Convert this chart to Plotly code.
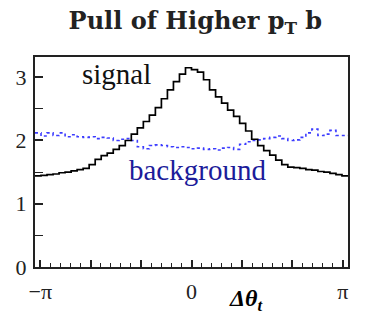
import numpy as np
import plotly.graph_objects as go

# histogram binning (Delta theta_t)
x_min, x_max, n_bins = -3.25, 3.25, 52

signal = [1.44, 1.45, 1.46, 1.47, 1.49, 1.50, 1.52, 1.54, 1.56, 1.62,
          1.70, 1.76, 1.80, 1.86, 1.92, 2.00, 2.10, 2.20, 2.30, 2.40,
          2.52, 2.66, 2.80, 2.93, 3.05, 3.15, 3.12, 3.08, 2.96, 2.80,
          2.69, 2.59, 2.48, 2.38, 2.27, 2.15, 2.02, 1.92, 1.84, 1.77,
          1.69, 1.62, 1.58, 1.57, 1.56, 1.54, 1.53, 1.51, 1.50, 1.48,
          1.46, 1.44]

background = [2.12, 2.07, 2.12, 2.08, 2.12, 2.06, 2.09, 2.06, 2.05, 2.06,
              2.03, 2.05, 2.04, 2.00, 2.02, 2.03, 2.00, 1.90, 1.87, 1.92,
              1.93, 1.92, 1.90, 1.89, 1.90, 1.89, 1.87, 1.88, 1.86, 1.87,
              1.85, 1.88, 1.89, 1.86, 1.94, 1.98, 2.00, 2.01, 2.03, 2.05,
              2.07, 2.03, 2.00, 2.01, 2.05, 2.12, 2.18, 2.08, 2.10, 2.16,
              2.08, 2.08]

x_tick_vals = [-np.pi, -2*np.pi/3, -np.pi/3, 0, np.pi/3, 2*np.pi/3, np.pi]
x_tick_text = ["\u2212\u03c0", "", "", "0", "", "", "\u03c0"]
y_tick_vals = [0, 1, 2, 3]
y_minor_vals = [0.5, 1.5, 2.5]

edges = np.linspace(x_min, x_max, n_bins + 1)
x_minor_vals = [k*np.pi/15 for k in range(-15, 16) if k % 5 != 0]

serif = "Liberation Serif"

fig = go.Figure()

# step histograms
fig.add_trace(go.Scatter(
    x=edges, y=background + [background[-1]],
    mode="lines", line_shape="hv",
    line=dict(color="#3c3cff", width=1.6, dash="dot"),
    hoverinfo="skip"
))
fig.add_trace(go.Scatter(
    x=edges, y=signal + [signal[-1]],
    mode="lines", line_shape="hv",
    line=dict(color="black", width=1.7),
    hoverinfo="skip"
))

# labels
fig.add_annotation(x=-1.55, y=3.05, text="signal", showarrow=False,
                   font=dict(family=serif, size=29, color="#111"))
fig.add_annotation(x=0.12, y=1.53, text="background", showarrow=False,
                   font=dict(family=serif, size=29, color="#1c1c9a"))
fig.add_annotation(x=1.15, xref="x", y=-0.155, yref="paper",
                   text="<b><i>\u0394\u03b8<sub>t</sub></i></b>",
                   showarrow=False, xanchor="center", yanchor="middle",
                   font=dict(family=serif, size=24, color="black"))

# page body adds an 8px offset, so margins are shifted to compensate
fig.update_layout(
    template="none",
    width=371, height=326,
    margin=dict(l=27, r=31, t=49, b=67),
    paper_bgcolor="white", plot_bgcolor="white",
    showlegend=False,
    title=dict(text="<b>Pull of Higher p<sub>T</sub> b</b>",
               x=0.505, xanchor="center", y=0.962, yanchor="middle",
               automargin=False,
               font=dict(family="DejaVu Serif", size=24, color="#222")),
    xaxis=dict(range=[x_min, x_max], tickmode="array", automargin=False,
               tickvals=x_tick_vals, ticktext=x_tick_text,
               ticks="inside", ticklen=7, tickwidth=1.5, tickcolor="#222",
               minor=dict(tickmode="array", tickvals=x_minor_vals,
                          ticks="inside", ticklen=4, tickwidth=1.3, tickcolor="#222"),
               showgrid=False, zeroline=False,
               showline=True, linecolor="#222", linewidth=2, mirror=True,
               tickfont=dict(family=serif, size=22, color="#222"),
               ticklabelstandoff=4),
    yaxis=dict(range=[0, 3.32], tickmode="array", tickvals=y_tick_vals,
               automargin=False,
               ticks="inside", ticklen=8, tickwidth=1.5, tickcolor="#222",
               minor=dict(tickmode="array", tickvals=y_minor_vals,
                          ticks="inside", ticklen=8, tickwidth=1.3, tickcolor="#222"),
               showgrid=False, zeroline=False,
               showline=True, linecolor="#222", linewidth=2, mirror=True,
               tickfont=dict(family=serif, size=22, color="#222"),
               ticklabelstandoff=2),
)

fig.write_html("out.html")
